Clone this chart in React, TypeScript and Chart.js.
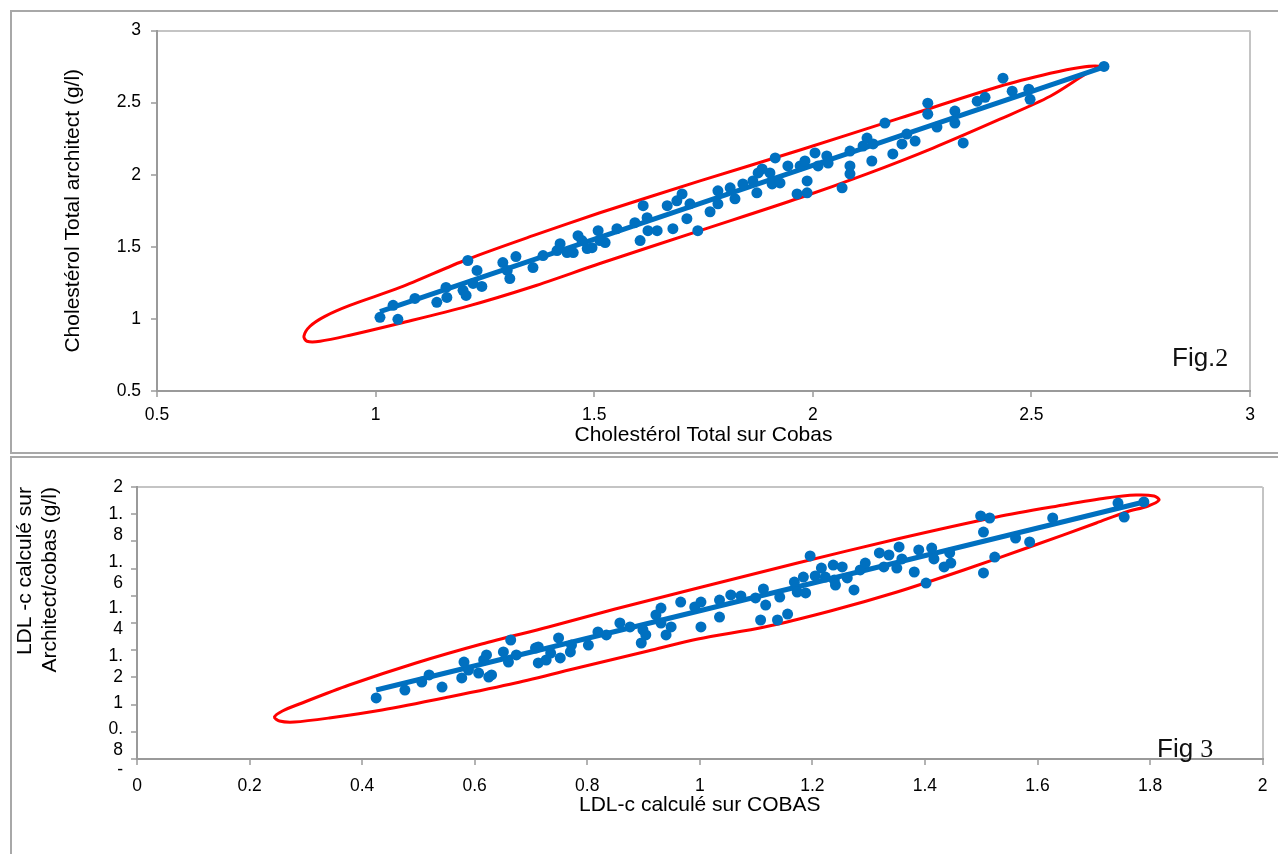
import React, { useEffect, useRef } from "react";
import { Chart, registerables } from "chart.js";

Chart.register(...registerables);

// ---------- Fig. 2 : Cholestérol total ----------
const tcCobas = [
  1.01, 1.04, 1.051, 1.09, 1.14, 1.161, 1.163, 1.2, 1.207, 1.211, 1.223, 1.232, 1.243,
  1.291, 1.301, 1.307, 1.321, 1.36, 1.383, 1.415, 1.422, 1.438, 1.452, 1.463, 1.472,
  1.484, 1.495, 1.509, 1.513, 1.525, 1.552, 1.593, 1.605, 1.612, 1.621, 1.623, 1.644,
  1.667, 1.68, 1.689, 1.701, 1.712, 1.719, 1.737, 1.765, 1.783, 1.783, 1.811, 1.822,
  1.84, 1.863, 1.875, 1.872, 1.884, 1.902, 1.907, 1.914, 1.925, 1.943, 1.964, 1.971,
  1.987, 1.987, 1.982, 2.005, 2.012, 2.032, 2.035, 2.067, 2.085, 2.085, 2.085, 2.115,
  2.124, 2.135, 2.138, 2.165, 2.183, 2.204, 2.215, 2.234, 2.263, 2.263, 2.284, 2.325,
  2.325, 2.344, 2.376, 2.394, 2.435, 2.456, 2.494, 2.497, 2.666,
];
const tcArchitect = [
  1.011, 1.094, 0.997, 1.142, 1.115, 1.218, 1.149, 1.198, 1.163, 1.405, 1.246, 1.336, 1.225,
  1.391, 1.336, 1.28, 1.432, 1.356, 1.439, 1.474, 1.522, 1.46, 1.46, 1.577, 1.543,
  1.488, 1.494, 1.612, 1.543, 1.529, 1.626, 1.667, 1.543, 1.785, 1.702, 1.612, 1.612,
  1.785, 1.626, 1.819, 1.867, 1.695, 1.798, 1.612, 1.743, 1.888, 1.798, 1.909, 1.833,
  1.936, 1.957, 2.012, 1.874, 2.04, 2.012, 1.936, 2.116, 1.943, 2.061, 1.867, 2.061,
  1.957, 1.874, 2.095, 2.151, 2.061, 2.13, 2.081, 1.909, 2.164, 2.061, 2.006, 2.199,
  2.254, 2.095, 2.213, 2.358, 2.144, 2.213, 2.282, 2.233, 2.496, 2.42, 2.33, 2.441,
  2.358, 2.22, 2.51, 2.537, 2.669, 2.579, 2.593, 2.523, 2.751,
];
const tcTrendX = [1.01, 2.66];
const tcTrendY = [1.05, 2.74];
const tcOutlineX = [
  1.513, 1.742, 1.971, 2.199, 2.428, 2.543, 2.611, 2.655,
  2.623, 2.543, 2.428, 2.275, 2.124, 1.971, 1.742, 1.513, 1.36, 1.209, 1.056, 0.941, 0.873, 0.843,
  0.836, 0.85, 0.884, 0.941, 1.056, 1.209, 1.36, 1.513,
];
const tcOutlineY = [
  1.736, 1.957, 2.171, 2.392, 2.613, 2.703, 2.744, 2.751,
  2.696, 2.544, 2.385, 2.185, 2.006, 1.84, 1.612, 1.384, 1.225, 1.087, 0.97, 0.887, 0.845, 0.845,
  0.88, 0.949, 1.018, 1.094, 1.218, 1.412, 1.577, 1.736,
];
const tcTickLabels = ["0.5", "1", "1.5", "2", "2.5", "3"];

// ---------- Fig. 3 : LDL-c ----------
const ldlCobas = [
  0.425, 0.476, 0.506, 0.519, 0.542, 0.577, 0.581, 0.589, 0.607, 0.616, 0.621, 0.625, 0.63,
  0.651, 0.66, 0.664, 0.674, 0.708, 0.713, 0.713, 0.727, 0.735, 0.749, 0.752, 0.77, 0.772,
  0.802, 0.819, 0.834, 0.858, 0.876, 0.896, 0.899, 0.904, 0.922, 0.931, 0.931, 0.94, 0.949,
  0.966, 0.991, 1.002, 1.002, 1.035, 1.035, 1.055, 1.073, 1.099, 1.108, 1.113, 1.117, 1.142,
  1.138, 1.156, 1.168, 1.173, 1.184, 1.188, 1.196, 1.205, 1.216, 1.223, 1.237, 1.239, 1.241,
  1.253, 1.262, 1.274, 1.285, 1.294, 1.319, 1.327, 1.336, 1.35, 1.354, 1.359, 1.381, 1.389,
  1.402, 1.412, 1.416, 1.434, 1.444, 1.446, 1.499, 1.515, 1.504, 1.524, 1.504, 1.561, 1.586,
  1.627, 1.743, 1.754, 1.789,
];
const ldlArchitect = [
  0.449, 0.507, 0.566, 0.618, 0.529, 0.596, 0.713, 0.654, 0.632, 0.728, 0.765, 0.603, 0.618,
  0.787, 0.713, 0.875, 0.765, 0.816, 0.824, 0.706, 0.728, 0.779, 0.89, 0.743, 0.787, 0.838,
  0.838, 0.934, 0.912, 1.0, 0.971, 0.853, 0.949, 0.912, 1.059, 1.11, 1.0, 0.912, 0.971,
  1.154, 1.118, 1.154, 0.971, 1.169, 1.044, 1.206, 1.199, 1.184, 1.022, 1.25, 1.132, 1.191,
  1.022, 1.066, 1.301, 1.228, 1.338, 1.221, 1.493, 1.346, 1.404, 1.338, 1.426, 1.316, 1.279,
  1.412, 1.331, 1.243, 1.39, 1.441, 1.515, 1.412, 1.5, 1.404, 1.559, 1.471, 1.375, 1.537,
  1.294, 1.551, 1.471, 1.412, 1.515, 1.441, 1.787, 1.772, 1.669, 1.485, 1.368, 1.625, 1.596,
  1.772, 1.882, 1.779, 1.89,
];
const ldlTrendX = [0.425, 1.789];
const ldlTrendY = [0.507, 1.89];
const ldlOutlineX = [
  0.9965, 1.1735, 1.3504, 1.5274, 1.646, 1.7221, 1.7752, 1.8071, 1.8159,
  1.7965, 1.7575, 1.7044, 1.5858, 1.469, 1.3504, 1.2319, 1.115, 0.9965, 0.908, 0.7894, 0.6726,
  0.554, 0.4354, 0.3416, 0.2796, 0.2531, 0.2442, 0.2584, 0.2885, 0.377, 0.4956, 0.6124, 0.731,
  0.8496, 0.9965,
];
const ldlOutlineY = [
  1.2574, 1.4412, 1.6176, 1.7794, 1.8676, 1.9191, 1.9412, 1.9338, 1.9044,
  1.8603, 1.8162, 1.7353, 1.5588, 1.3897, 1.2279, 1.0882, 0.9706, 0.8824, 0.7941, 0.6765, 0.5588,
  0.4559, 0.3603, 0.3015, 0.2721, 0.2794, 0.3088, 0.3529, 0.4044, 0.5441, 0.7059, 0.8456, 0.9706,
  1.1029, 1.2574,
];
const ldlXTickLabels = ["0", "0.2", "0.4", "0.6", "0.8", "1", "1.2", "1.4", "1.6", "1.8", "2"];
const ldlYLabelText = [["2"], ["1.", "8"], ["1.", "6"], ["1.", "4"], ["1.", "2"], ["1"], ["0.", "8"], ["-"]];
const ldlYLabelAt = [2, 1.721, 1.368, 1.029, 0.676, 0.412, 0.14, -0.081];

const BLUE = "#0070c0";
const RED = "#ff0000";
const AXIS = "#9a9a9a";
const FRAME = "#c4c4c4";
const FONT = '"Liberation Sans", Arial, sans-serif';
const TICK_FONT = { family: FONT, size: 17.5, lineHeight: 1.2 };
const TITLE_FONT = { family: FONT, size: 21 };

const pts = (xs: number[], ys: number[]) => xs.map((x, i) => ({ x, y: ys[i] }));

const frameColor = (max: number, color: string) => (ctx: any) =>
  ctx.tick && Math.abs(ctx.tick.value - max) < 1e-9 ? color : "rgba(0,0,0,0)";

function datasets(xs: number[], ys: number[], tx: number[], ty: number[], ox: number[], oy: number[]) {
  return [
    {
      data: pts(xs, ys),
      showLine: false,
      pointRadius: 5.5,
      pointBackgroundColor: BLUE,
      pointBorderWidth: 0,
      order: 0,
      yAxisID: "y",
    },
    {
      data: pts(tx, ty),
      showLine: true,
      borderColor: BLUE,
      borderWidth: 5,
      pointRadius: 0,
      order: 1,
      yAxisID: "y",
    },
    {
      data: pts(ox, oy),
      showLine: true,
      borderColor: RED,
      borderWidth: 3,
      pointRadius: 0,
      tension: 0.3,
      order: 2,
      yAxisID: "y",
    },
  ];
}

function tcConfig(): any {
  return {
    type: "scatter",
    data: { datasets: datasets(tcCobas, tcArchitect, tcTrendX, tcTrendY, tcOutlineX, tcOutlineY) },
    options: {
      responsive: false,
      animation: false,
      events: [],
      layout: { padding: { left: 0, top: 19, right: 28, bottom: 0 } },
      plugins: { legend: { display: false }, tooltip: { enabled: false } },
      scales: {
        x: {
          type: "linear",
          position: "bottom",
          min: 0.5,
          max: 3,
          afterFit: (s: any) => { s.height = 61; },
          ticks: {
            stepSize: 0.5,
            callback: (_v: any, i: number) => tcTickLabels[i],
            color: "#000",
            font: TICK_FONT,
            padding: 7.5,
            maxRotation: 0,
          },
          grid: { color: frameColor(3, FRAME), lineWidth: 2, tickColor: AXIS, tickWidth: 1.5, tickLength: 6 },
          border: { color: AXIS, width: 2 },
          title: {
            display: true,
            text: "Cholestérol Total sur Cobas",
            color: "#000",
            font: TITLE_FONT,
            padding: { top: 0, bottom: 4.4 },
          },
        },
        y: {
          type: "linear",
          position: "left",
          min: 0.5,
          max: 3,
          afterFit: (s: any) => { s.width = 147; },
          ticks: {
            stepSize: 0.5,
            callback: (_v: any, i: number) => tcTickLabels[i],
            color: "#000",
            font: TICK_FONT,
            padding: 10,
          },
          grid: { color: frameColor(3, FRAME), lineWidth: 2, tickColor: AXIS, tickWidth: 1.5, tickLength: 6 },
          border: { color: AXIS, width: 2 },
          title: {
            display: true,
            text: "Cholestérol Total architect (g/l)",
            color: "#000",
            font: TITLE_FONT,
            padding: { top: 50.4, bottom: 0 },
          },
        },
      },
    },
  };
}

function ldlConfig(): any {
  return {
    type: "scatter",
    data: { datasets: datasets(ldlCobas, ldlArchitect, ldlTrendX, ldlTrendY, ldlOutlineX, ldlOutlineY) },
    options: {
      responsive: false,
      animation: false,
      events: [],
      layout: { padding: { left: 0, top: 30, right: 12, bottom: 0 } },
      plugins: { legend: { display: false }, tooltip: { enabled: false } },
      scales: {
        x: {
          type: "linear",
          position: "bottom",
          min: 0,
          max: 2,
          afterFit: (s: any) => { s.height = 95; },
          ticks: {
            stepSize: 0.2,
            callback: (_v: any, i: number) => ldlXTickLabels[i],
            color: "#000",
            font: TICK_FONT,
            padding: 10.5,
            maxRotation: 0,
            autoSkip: false,
          },
          grid: { color: frameColor(2, FRAME), lineWidth: 2, tickColor: AXIS, tickWidth: 1.5, tickLength: 6 },
          border: { color: AXIS, width: 2 },
          title: {
            display: true,
            text: "LDL-c calculé sur COBAS",
            color: "#000",
            font: TITLE_FONT,
            padding: { top: 0, bottom: 36.4 },
          },
        },
        y: {
          type: "linear",
          position: "left",
          weight: 0,
          min: 0,
          max: 2,
          afterFit: (s: any) => { s.width = 6; },
          ticks: { stepSize: 0.2, display: false },
          grid: { color: frameColor(2, FRAME), lineWidth: 2, tickColor: AXIS, tickWidth: 1.5, tickLength: 6 },
          border: { color: AXIS, width: 2 },
        },
        yl: {
          type: "linear",
          position: "left",
          weight: 1,
          min: 0,
          max: 2,
          afterBuildTicks: (axis: any) => {
            axis.ticks = ldlYLabelAt.map((v) => ({ value: v }));
          },
          afterFit: (s: any) => { s.width = 121; },
          ticks: {
            autoSkip: false,
            callback: (_v: any, i: number) => ldlYLabelText[i],
            color: "#000",
            font: TICK_FONT,
            padding: 8,
          },
          grid: { display: false, drawTicks: false },
          border: { display: false },
          title: {
            display: true,
            text: ["LDL -c calculé sur", "Architect/cobas (g/l)"],
            align: "end",
            color: "#000",
            font: TITLE_FONT,
            padding: { top: 2.4, bottom: 0 },
          },
        },
      },
    },
  };
}

function ChartCanvas(props: { config: () => any; left: number; top: number; width: number; height: number }) {
  const ref = useRef<HTMLCanvasElement | null>(null);
  useEffect(() => {
    if (!ref.current) return;
    const chart = new Chart(ref.current, props.config());
    return () => chart.destroy();
  }, []);
  return (
    <canvas
      ref={ref}
      width={props.width}
      height={props.height}
      style={{
        position: "absolute",
        left: props.left,
        top: props.top,
        width: props.width,
        height: props.height,
        display: "block",
      }}
    />
  );
}

const figStyle: React.CSSProperties = {
  position: "absolute",
  fontFamily: FONT,
  fontSize: 26,
  lineHeight: "26px",
  color: "#111",
  whiteSpace: "nowrap",
};
const serif: React.CSSProperties = { fontFamily: '"Liberation Serif", "Times New Roman", serif' };

export default function App() {
  return (
    <div
      style={{
        position: "absolute",
        left: 0,
        top: 0,
        width: 1278,
        height: 854,
        overflow: "hidden",
        background: "#fff",
      }}
    >
      <div
        style={{
          position: "absolute",
          left: 10,
          top: 10,
          width: 1300,
          height: 440,
          border: "2px solid #a8a8a8",
        }}
      />
      <div
        style={{
          position: "absolute",
          left: 10,
          top: 456,
          width: 1300,
          height: 420,
          border: "2px solid #a8a8a8",
        }}
      />
      <ChartCanvas config={tcConfig} left={10} top={10} width={1268} height={442} />
      <ChartCanvas config={ldlConfig} left={10} top={457} width={1268} height={397} />
      <div style={{ ...figStyle, left: 1172, top: 344 }}>
        Fig.<span style={serif}>2</span>
      </div>
      <div style={{ ...figStyle, left: 1157, top: 735 }}>
        Fig <span style={serif}>3</span>
      </div>
    </div>
  );
}
